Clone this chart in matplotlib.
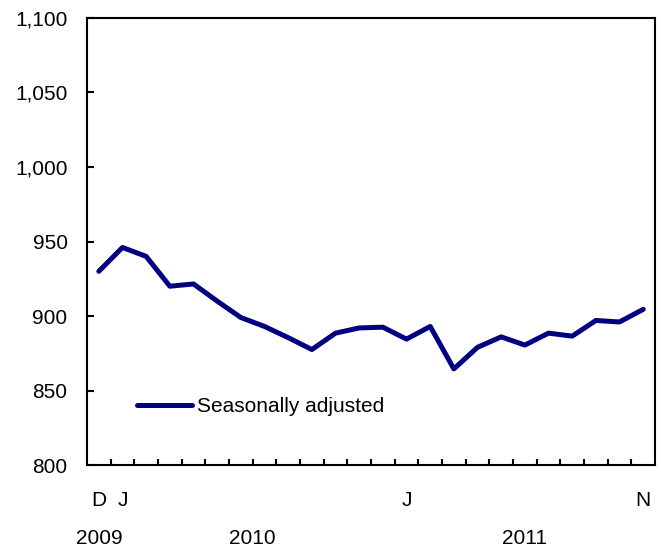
import numpy as np
import matplotlib.pyplot as plt
from matplotlib.ticker import FuncFormatter
import matplotlib.transforms as mtransforms

plt.rcParams['font.family'] = ['Liberation Sans', 'DejaVu Sans']

# monthly values, Dec 2009 .. Nov 2011
values = [930, 946, 940, 920, 921.5, 910, 899, 893, 885.5, 877.5, 888.5, 892,
          892.5, 884.5, 893, 864.5, 879, 886, 880.5, 888.5, 886.5, 897, 896, 904.5]
month_ticks = [0, 1, 13, 23]
month_labels = ["D", "J", "J", "N"]
years = ["2009", "2010", "2011"]
year_pos = [0, 6.5, 18]

x = np.arange(len(values))
fs = 15

fig = plt.figure(figsize=(6.61, 5.5), dpi=100)
ax = fig.add_axes([0.1316, 0.1545, 0.8594, 0.8128])

ax.plot(x, values, color="#000080", lw=3.6, solid_capstyle="round",
        solid_joinstyle="round", label="Seasonally adjusted")

ax.set_xlim(-0.5, 23.5)
ax.set_ylim(800, 1100)
ax.set_yticks(np.arange(800, 1101, 50))
ax.yaxis.set_major_formatter(FuncFormatter(lambda v, p: f"{int(v):,}"))

ax.set_xticks(month_ticks)
ax.set_xticklabels(month_labels)
ax.set_xticks(np.arange(0.5, 23, 1), minor=True)
ax.tick_params(axis="x", which="major", length=0, pad=19, labelsize=fs)
ax.tick_params(axis="x", which="minor", direction="in", length=4, width=1.5)
ax.tick_params(axis="y", direction="in", length=5, width=1.5, pad=14, labelsize=fs)

for s in ax.spines.values():
    s.set_linewidth(1.5)
    s.set_color("black")

trans = mtransforms.blended_transform_factory(ax.transData, ax.transAxes)
for yr, px in zip(years, year_pos):
    ax.text(px, -0.165, yr, transform=trans, ha="center", va="center", fontsize=fs)

ax.legend(loc="center left", bbox_to_anchor=(0.055, 0.13), frameon=False,
          fontsize=fs, handlelength=2.64, handletextpad=0.25)

fig.savefig("out.png", dpi=100)
